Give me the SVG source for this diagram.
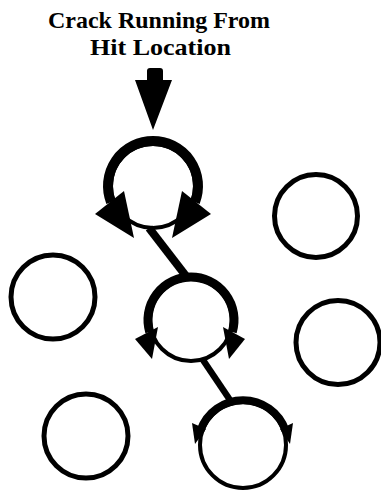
<svg xmlns="http://www.w3.org/2000/svg" width="381" height="491" viewBox="0 0 381 491">
<style>
.lbl{font-family:"Liberation Serif","Times New Roman",serif;font-weight:bold;font-size:24px;fill:#000}
.ring{fill:none;stroke:#000;stroke-width:5}
.thin{fill:none;stroke:#000;stroke-width:4}
.thick{fill:none;stroke:#000}
.head{fill:#000;stroke:none}
.crack{stroke:#000;fill:none;stroke-linecap:butt}
</style>
<rect width="381" height="491" fill="#fff"/>
<g id="title">
<text class="lbl" x="48" y="28" textLength="222" lengthAdjust="spacingAndGlyphs">Crack Running From</text>
<text class="lbl" x="90" y="55" textLength="141" lengthAdjust="spacingAndGlyphs">Hit Location</text>
</g>
<g id="connectors">
<path id="hit-arrow" class="head" d="M147 71 Q147 68 150 68 L160 68 Q163 68 163 71 L163 80 L172 80 L153 130 L135 80 L147 80 Z"/>
<line class="crack" x1="149" y1="228" x2="186" y2="276" stroke-width="8"/>
<line class="crack" x1="203" y1="360" x2="232" y2="403" stroke-width="6.5"/>
</g>
<g id="node-top">
<circle class="thin" cx="153" cy="186" r="42"/>
<path class="thick" stroke-width="10" d="M111 202.1 A45 45 0 1 1 195 202.1"/>
<polygon class="head" points="95,214 124,191 134,238"/>
<polygon class="head" points="211,214 182,191 172,238"/>
</g>
<g id="node-middle">
<circle class="thin" cx="191" cy="320" r="41"/>
<path class="thick" stroke-width="9" d="M149.7 331.9 A43 43 0 1 1 232.3 331.9"/>
<polygon class="head" points="135,339 158,327 152,359"/>
<polygon class="head" points="245,339 223,327 229,359"/>
</g>
<g id="node-bottom">
<circle class="thin" cx="243" cy="445" r="43"/>
<path class="thick" stroke-width="8" d="M200.5 430.4 A45 45 0 0 1 285.5 430.4"/>
<polygon class="head" points="192,423 206,429 195,444"/>
<polygon class="head" points="293,423 280,429 290,444"/>
</g>
<g id="node-right-upper"><circle class="ring" cx="316" cy="216" r="41.5"/></g>
<g id="node-left"><circle class="ring" cx="53" cy="297" r="42"/></g>
<g id="node-right-lower"><circle class="ring" cx="338" cy="342.5" r="42"/></g>
<g id="node-bottom-left"><circle class="ring" cx="86" cy="436" r="42"/></g>
</svg>
